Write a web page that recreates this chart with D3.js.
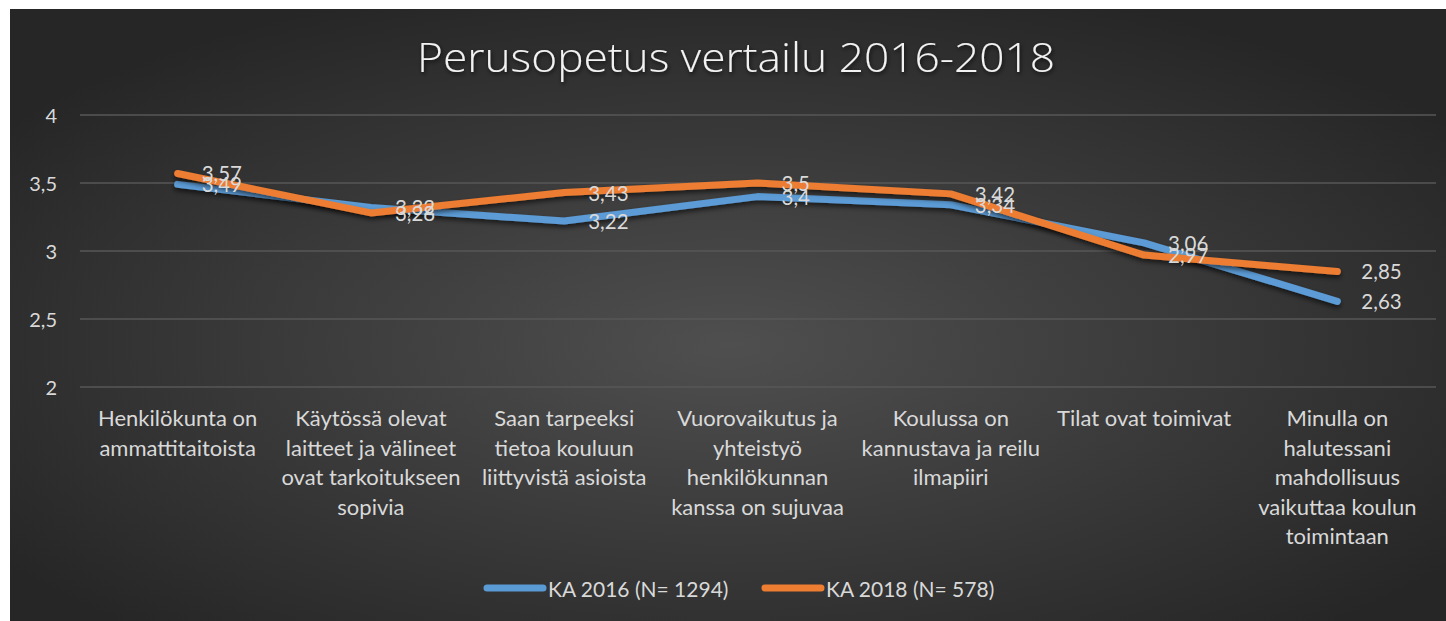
<!DOCTYPE html>
<html>
<head>
<meta charset="utf-8">
<script src="https://cdn.jsdelivr.net/npm/d3@7"></script>
<style>
  html, body { margin: 0; padding: 0; background: #ffffff; }
  svg { display: block; }
</style>
</head>
<body>
<svg id="chart" width="1446" height="621"></svg>
<script>
const title = "Perusopetus vertailu 2016-2018";
const categories = [
  ["Henkilökunta on", "ammattitaitoista"],
  ["Käytössä olevat", "laitteet ja välineet", "ovat tarkoitukseen", "sopivia"],
  ["Saan tarpeeksi", "tietoa kouluun", "liittyvistä asioista"],
  ["Vuorovaikutus ja", "yhteistyö", "henkilökunnan", "kanssa on sujuvaa"],
  ["Koulussa on", "kannustava ja reilu", "ilmapiiri"],
  ["Tilat ovat toimivat"],
  ["Minulla on", "halutessani", "mahdollisuus", "vaikuttaa koulun", "toimintaan"]
];
const seriesNames = ["KA 2016 (N= 1294)", "KA 2018 (N= 578)"];
const values2016 = [3.49, 3.32, 3.22, 3.4, 3.34, 3.06, 2.63];
const values2018 = [3.57, 3.28, 3.43, 3.5, 3.42, 2.97, 2.85];
const yTicks = [2, 2.5, 3, 3.5, 4];
const colors = ["#5B9BD5", "#ED7D31"];

const svg = d3.select("#chart");
const defs = svg.append("defs");

const grad = defs.append("radialGradient").attr("id", "bg")
  .attr("cx", "50%").attr("cy", "55%").attr("r", "62%");
grad.append("stop").attr("offset", "0%").attr("stop-color", "#4f4f4f");
grad.append("stop").attr("offset", "100%").attr("stop-color", "#262626");

const sh = defs.append("filter").attr("id", "shadow")
  .attr("x", "-10%").attr("y", "-50%").attr("width", "120%").attr("height", "200%");
sh.append("feDropShadow").attr("dx", 0).attr("dy", 3).attr("stdDeviation", 2.5)
  .attr("flood-color", "#000").attr("flood-opacity", 0.6);

const tsh = defs.append("filter").attr("id", "tshadow")
  .attr("x", "-10%").attr("y", "-30%").attr("width", "120%").attr("height", "160%");
tsh.append("feDropShadow").attr("dx", 1).attr("dy", 2).attr("stdDeviation", 2)
  .attr("flood-color", "#000").attr("flood-opacity", 0.7);

svg.append("rect").attr("x", 10).attr("y", 9).attr("width", 1436).attr("height", 612)
  .attr("fill", "url(#bg)");

const x = d3.scaleBand().domain(d3.range(categories.length)).range([81, 1434]);
const y = d3.scaleLinear().domain([2, 4]).range([387, 115]);
const cx = i => x(i) + x.bandwidth() / 2;

// gridlines
svg.append("g").selectAll("line").data(yTicks).join("line")
  .attr("x1", 80).attr("x2", 1436)
  .attr("y1", d => y(d)).attr("y2", d => y(d))
  .attr("stroke", "#575757").attr("stroke-width", 1.5);

// y labels
const fmt = d => String(d).replace(".", ",");
svg.append("g").selectAll("text").data(yTicks).join("text")
  .attr("x", 57).attr("y", d => y(d))
  .attr("text-anchor", "end").attr("dominant-baseline", "central")
  .attr("font-family", "Lato, 'Open Sans', sans-serif").attr("font-size", 20)
  .attr("fill", "#d9d9d9").text(fmt);

// title
svg.append("text").attr("x", 736).attr("y", 72)
  .attr("text-anchor", "middle")
  .attr("font-family", "'Open Sans', sans-serif").attr("font-weight", 300)
  .attr("font-size", 40).attr("fill", "#f2f2f2")
  .attr("filter", "url(#tshadow)")
  .attr("textLength", 638).attr("lengthAdjust", "spacingAndGlyphs")
  .text(title);

// category labels
const cat = svg.append("g").selectAll("text").data(categories).join("text")
  .attr("text-anchor", "middle")
  .attr("font-family", "Lato, 'Open Sans', sans-serif").attr("font-size", 22)
  .attr("fill", "#d9d9d9");
cat.each(function(lines, i) {
  d3.select(this).selectAll("tspan").data(lines).join("tspan")
    .attr("x", cx(i)).attr("y", (d, k) => 426 + k * 29.6).text(d => d);
});

// lines
const series = [values2016, values2018];
const line = d3.line().x((d, i) => cx(i)).y(d => y(d));
svg.append("g").selectAll("path").data(series).join("path")
  .attr("d", line).attr("fill", "none")
  .attr("stroke", (d, i) => colors[i]).attr("stroke-width", 7)
  .attr("stroke-linecap", "round").attr("stroke-linejoin", "round")
  .attr("filter", "url(#shadow)");

// data labels
series.forEach((vals, s) => {
  svg.append("g").selectAll("text").data(vals).join("text")
    .attr("x", (d, i) => cx(i) + 24).attr("y", d => y(d))
    .attr("dominant-baseline", "central")
    .attr("font-family", "Lato, 'Open Sans', sans-serif").attr("font-size", 20.5)
    .attr("fill", "#d9d9d9").text(fmt);
});

// legend
const legend = [{x1: 487, tx: 548}, {x1: 765, tx: 826}];
const lg = svg.append("g").selectAll("g").data(seriesNames).join("g");
lg.append("line")
  .attr("x1", (d, i) => legend[i].x1).attr("x2", (d, i) => legend[i].x1 + 56)
  .attr("y1", 588).attr("y2", 588)
  .attr("stroke", (d, i) => colors[i]).attr("stroke-width", 7)
  .attr("stroke-linecap", "round");
lg.append("text")
  .attr("x", (d, i) => legend[i].tx).attr("y", 588)
  .attr("dominant-baseline", "central")
  .attr("font-family", "Lato, 'Open Sans', sans-serif").attr("font-size", 21)
  .attr("fill", "#d9d9d9").text(d => d);
</script>
</body>
</html>
